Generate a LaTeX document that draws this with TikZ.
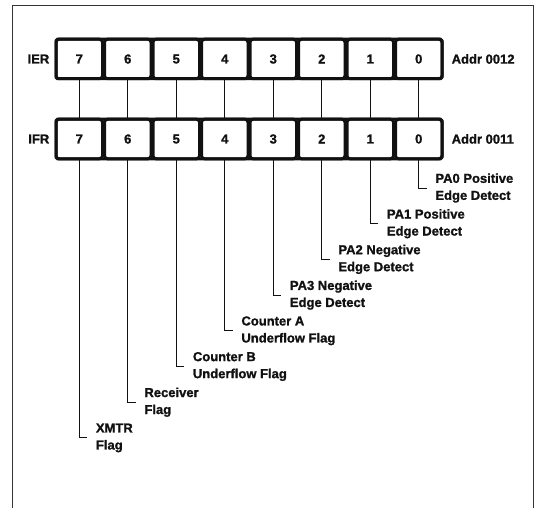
\documentclass[tikz,border=0pt]{standalone}
\usepackage{fontspec}
\setmainfont{Liberation Sans}
\newfontfamily\heavy{Liberation Sans Bold}[FakeBold=1.3]
\usepackage{xcolor}
\usetikzlibrary{positioning}
\definecolor{inkc}{HTML}{111111}
\tikzset{
  cell/.style={draw=inkc,line width=3pt,rounded corners=3pt,minimum width=46.5pt,minimum height=39.5pt,inner sep=0pt,font=\fontsize{13}{15}\heavy,text=inkc},
  rowbox/.style={draw=inkc,line width=3pt,rounded corners=1.5pt},
  tag/.style={inner sep=2pt,font=\fontsize{13}{15}\heavy,text=inkc},
  lbl/.style={anchor=west,align=left,inner xsep=8.5pt,inner ysep=1pt,font=\fontsize{13}{17}\heavy,text=inkc},
  wire/.style={draw=inkc,line width=0.9pt}
}
\begin{document}
\begin{tikzpicture}[x=1pt,y=-1pt]
\useasboundingbox (0,0) rectangle (538,508);
% frame, open at the bottom
\draw[inkc!85,line width=0.9pt] (12,512) -- (12,5.5) -- (533,5.5) -- (533,512);
% the two registers
\draw[rowbox] (56,39.25) rectangle (442,78.75);
\draw[rowbox] (56,119.25) rectangle (442,158.75);
\foreach \b in {7,...,0}{
  \node[cell] (ier\b) at ({79.25+(7-\b)*48.5},59) {\b};
  \node[cell] (ifr\b) at ({79.25+(7-\b)*48.5},139) {\b};
  \draw[wire] (ier\b.south) -- (ifr\b.north);
}
\node[tag,left=3pt of ier7] (iername) {IER};
\node[tag,left=3pt of ifr7] (ifrname) {IFR};
\node[tag,right=6pt of ier0] (ieraddr) {Addr 0012};
\node[tag,right=6pt of ifr0] (ifraddr) {Addr 0011};
% bit names
\foreach \b/\txt in {0/{PA0 Positive\\Edge Detect},1/{PA1 Positive\\Edge Detect},
    2/{PA2 Negative\\Edge Detect},3/{PA3 Negative\\Edge Detect},
    4/{Counter A\\Underflow Flag},5/{Counter B\\Underflow Flag},
    6/{Receiver\\Flag},7/{XMTR\\Flag}}{
  \node[lbl] (bit\b) at ({79.25+(7-\b)*48.5+8},{188+35.7*\b}) {\txt};
  \draw[wire] (ifr\b.south) |- (bit\b.west);
}
\end{tikzpicture}
\end{document}
